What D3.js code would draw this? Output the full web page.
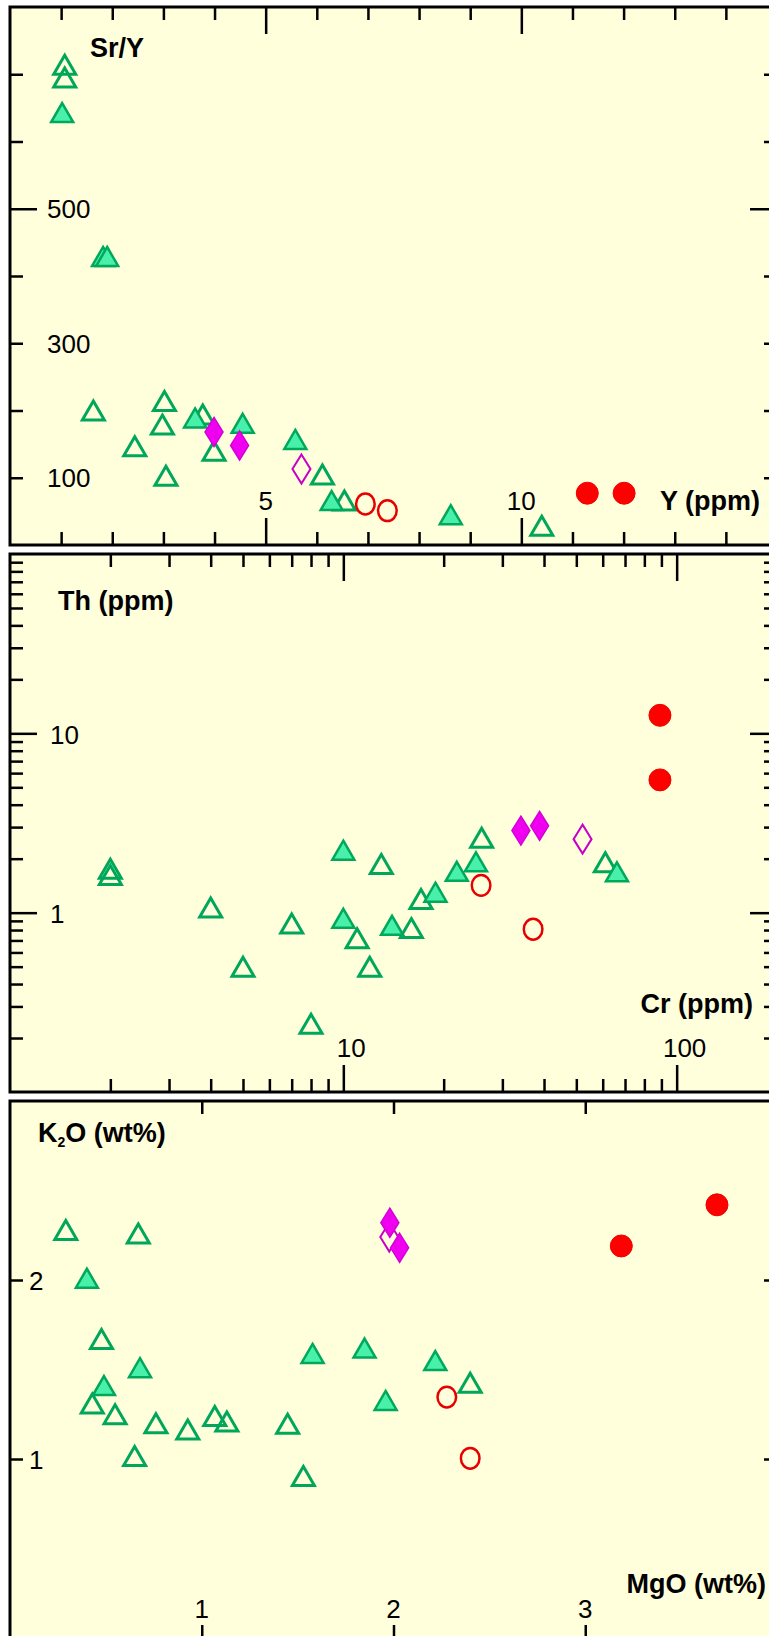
<!DOCTYPE html>
<html>
<head>
<meta charset="utf-8">
<script src="https://cdn.jsdelivr.net/npm/d3@7"></script>
<style>
  body { margin: 0; background: #fff; }
  svg { display: block; }
  text { font-family: "Liberation Sans", Arial, sans-serif; fill: #000; }
  .tick-label { font-size: 26px; }
  .axis-title { font-size: 27px; font-weight: bold; }
</style>
</head>
<body>
<div id="chart"></div>
<script>
// Panel 1: Sr/Y vs Y (ppm)
var srY_openTri = [[1.07,714],[1.07,695],[1.63,200],[3.02,214],[2.98,179],[2.44,147],[3.05,103],
                   [3.77,194],[3.99,140],[6.11,105],[6.54,66],[10.40,28.5]];
var srY_filledTri = [[1.02,643],[1.82,429],[1.90,429],[3.62,189],[4.55,181],[5.58,157],[6.29,66],[8.62,45]];
var srY_filledDia = [[3.99,168],[4.49,148]];
var srY_openDia = [[5.70,113]];
var srY_openCirc = [[6.95,61],[7.38,51]];
var srY_filledCirc = [[11.29,77],[12.01,77]];

// Panel 2: Th (ppm) vs Cr (ppm)
var th_openTri = [[26.0,2.62],[61.1,1.91],[13.0,1.87],[2.0,1.76],[2.0,1.62],[4.0,1.07],[7.0,0.87],
                  [11.0,0.72],[16.0,0.82],[17.1,1.19],[5.0,0.50],[12.0,0.50],[8.0,0.24]];
var th_filledTri = [[25.0,1.92],[21.9,1.70],[66.2,1.69],[10.0,2.23],[10.0,0.93],[14.0,0.85],[18.9,1.30]];
var th_filledDia = [[34.1,2.87],[38.8,3.05]];
var th_openDia = [[52.2,2.57]];
var th_openCirc = [[25.9,1.42],[37.1,0.808]];
var th_filledCirc = [[89.1,12.6],[89.1,5.5]];

// Panel 3: K2O vs MgO (wt%)
var k2o_openTri = [[0.291,2.28],[0.669,2.26],[0.477,1.67],[0.429,1.31],[0.548,1.25],[0.761,1.20],
                   [0.927,1.165],[1.068,1.24],[1.131,1.21],[1.448,1.197],[0.650,1.017],[1.530,0.905],[2.400,1.426]];
var k2o_filledTri = [[0.401,2.01],[1.578,1.59],[1.849,1.62],[2.218,1.55],[0.678,1.51],[0.490,1.41],[1.959,1.327]];
var k2o_filledDia = [[1.981,2.32],[2.032,2.18]];
var k2o_openDia = [[1.978,2.24]];
var k2o_openCirc = [[2.278,1.346],[2.40,1.004]];
var k2o_filledCirc = [[3.188,2.19],[3.687,2.42]];

// tick values
var srY_xMinor = [1,2,3,4,6,7,8,9,11,12,13,14], srY_xMajor = [5,10];
var srY_yMinor = [100,200,300,400,600,700], srY_yMajor = [500];
var srY_xLabels = [5,10], srY_yLabels = [500,300,100];

var th_xMinor = [2,3,4,5,6,7,8,9,20,30,40,50,60,70,80,90], th_xMajor = [10,100];
var th_yMinor = [0.2,0.3,0.4,0.5,0.6,0.7,0.8,0.9,2,3,4,5,6,7,8,9,20,30,40,50,60,70,80,90], th_yMajor = [1,10];
var th_xLabels = [10,100], th_yLabels = [10,1];

var k2o_xMinor = [1,2,3], k2o_yMinor = [1,2];
var k2o_xLabels = [1,2,3], k2o_yLabels = [2,1];

var w = 769, h = 1636;
var left = 10, right = 777;

var svg = d3.select("#chart").append("svg")
    .attr("width", w)
    .attr("height", h);

var shapes = {
  tri: "M0,-9.5L11,9.5L-11,9.5Z",
  dia: "M0,-14.5L9,0L0,14.5L-9,0Z"
};

function drawPanel(p) {
  var g = svg.append("g");
  var x = p.x.range([left, right]);
  var y = p.y.range([p.bottom, p.top]);

  g.append("rect")
      .attr("x", left).attr("y", p.top)
      .attr("width", right - left).attr("height", p.bottom - p.top)
      .attr("fill", "#FFFFDC");

  function ticks(axis, vals, len, tx, ty) {
    var a = g.append("g")
        .attr("transform", "translate(" + tx + "," + ty + ")")
        .call(axis.tickValues(vals).tickSize(-len).tickFormat(""));
    a.select(".domain").remove();
    a.selectAll("line").attr("stroke", "#000").attr("stroke-width", 2.5);
  }
  ticks(d3.axisBottom(x), p.xMinor, 13, 0, p.bottom);
  ticks(d3.axisTop(x), p.xMinor, 13, 0, p.top);
  ticks(d3.axisLeft(y), p.yMinor, 13, left, 0);
  ticks(d3.axisRight(y), p.yMinor, 13, right, 0);
  if (p.xMajor) {
    ticks(d3.axisBottom(x), p.xMajor, 27, 0, p.bottom);
    ticks(d3.axisTop(x), p.xMajor, 27, 0, p.top);
  }
  if (p.yMajor) {
    ticks(d3.axisLeft(y), p.yMajor, 27, left, 0);
    ticks(d3.axisRight(y), p.yMajor, 27, right, 0);
  }

  g.selectAll(".xl").data(p.xLabels).enter().append("text")
      .attr("class", "tick-label")
      .attr("text-anchor", "middle")
      .attr("x", function(d) { return x(d) + p.xLabelDx; })
      .attr("y", p.xLabelY)
      .text(function(d) { return d; });

  g.selectAll(".yl").data(p.yLabels).enter().append("text")
      .attr("class", "tick-label")
      .attr("x", p.yLabelX)
      .attr("y", function(d) { return y(d) + p.yLabelDy; })
      .text(function(d) { return d; });

  // markers
  function marks(data, path, fill, stroke, sw) {
    g.selectAll(null).data(data).enter().append("path")
        .attr("d", path)
        .attr("transform", function(d) { return "translate(" + x(d[0]) + "," + y(d[1]) + ")"; })
        .attr("fill", fill)
        .attr("stroke", stroke)
        .attr("stroke-width", sw)
        .attr("stroke-linejoin", "miter");
  }
  function circles(data, rx, ry, fill, stroke, sw) {
    g.selectAll(null).data(data).enter().append("ellipse")
        .attr("cx", function(d) { return x(d[0]); })
        .attr("cy", function(d) { return y(d[1]); })
        .attr("rx", rx).attr("ry", ry)
        .attr("fill", fill)
        .attr("stroke", stroke)
        .attr("stroke-width", sw);
  }
  marks(p.openTri, shapes.tri, "none", "#00A65A", 3);
  marks(p.filledTri, shapes.tri, "#48F0AA", "#00A85C", 2.5);
  circles(p.openCirc, 9.3, 10.4, "none", "#E80000", 2.5);
  circles(p.filledCirc, 11, 11, "#FF0000", "#F00000", 1);
  marks(p.openDia, shapes.dia, "none", "#C800C8", 2);
  marks(p.filledDia, shapes.dia, "#F000F0", "#D400D4", 1.5);

  g.append("rect")
      .attr("x", left).attr("y", p.top)
      .attr("width", right - left).attr("height", p.bottom - p.top)
      .attr("fill", "none")
      .attr("stroke", "#000")
      .attr("stroke-width", 3);

  p.titles(g);
}

drawPanel({
  x: d3.scaleLinear().domain([0, 15]),
  y: d3.scaleLinear().domain([0, 800]),
  top: 7, bottom: 545,
  xMinor: srY_xMinor, xMajor: srY_xMajor, yMinor: srY_yMinor, yMajor: srY_yMajor,
  xLabels: srY_xLabels, xLabelY: 510, xLabelDx: 0,
  yLabels: srY_yLabels, yLabelX: 47, yLabelDy: 9.5,
  openTri: srY_openTri, filledTri: srY_filledTri, openDia: srY_openDia,
  filledDia: srY_filledDia, openCirc: srY_openCirc, filledCirc: srY_filledCirc,
  titles: function(g) {
    g.append("text").attr("class", "axis-title").attr("x", 90).attr("y", 57).text("Sr/Y");
    g.append("text").attr("class", "axis-title").attr("text-anchor", "end").attr("x", 760).attr("y", 510).text("Y (ppm)");
  }
});

drawPanel({
  x: d3.scaleLog().domain([1, 200]),
  y: d3.scaleLog().domain([0.1, 100]),
  top: 554, bottom: 1092,
  xMinor: th_xMinor, xMajor: th_xMajor, yMinor: th_yMinor, yMajor: th_yMajor,
  xLabels: th_xLabels, xLabelY: 1057, xLabelDx: 8,
  yLabels: th_yLabels, yLabelX: 50, yLabelDy: 10.5,
  openTri: th_openTri, filledTri: th_filledTri, openDia: th_openDia,
  filledDia: th_filledDia, openCirc: th_openCirc, filledCirc: th_filledCirc,
  titles: function(g) {
    g.append("text").attr("class", "axis-title").attr("x", 58).attr("y", 610).text("Th (ppm)");
    g.append("text").attr("class", "axis-title").attr("text-anchor", "end").attr("x", 753).attr("y", 1013).text("Cr (ppm)");
  }
});

drawPanel({
  x: d3.scaleLinear().domain([0, 4]),
  y: d3.scaleLinear().domain([0, 3]),
  top: 1101, bottom: 1638,
  xMinor: k2o_xMinor, yMinor: k2o_yMinor,
  xLabels: k2o_xLabels, xLabelY: 1618, xLabelDx: 0,
  yLabels: k2o_yLabels, yLabelX: 29, yLabelDy: 10,
  openTri: k2o_openTri, filledTri: k2o_filledTri, openDia: k2o_openDia,
  filledDia: k2o_filledDia, openCirc: k2o_openCirc, filledCirc: k2o_filledCirc,
  titles: function(g) {
    var t = g.append("text").attr("class", "axis-title").attr("x", 38).attr("y", 1142);
    t.append("tspan").text("K");
    t.append("tspan").attr("dy", 5).style("font-size", "14px").text("2");
    t.append("tspan").attr("dy", -5).text("O (wt%)");
    g.append("text").attr("class", "axis-title").attr("text-anchor", "end").attr("x", 766).attr("y", 1593).text("MgO (wt%)");
  }
});
</script>
</body>
</html>
